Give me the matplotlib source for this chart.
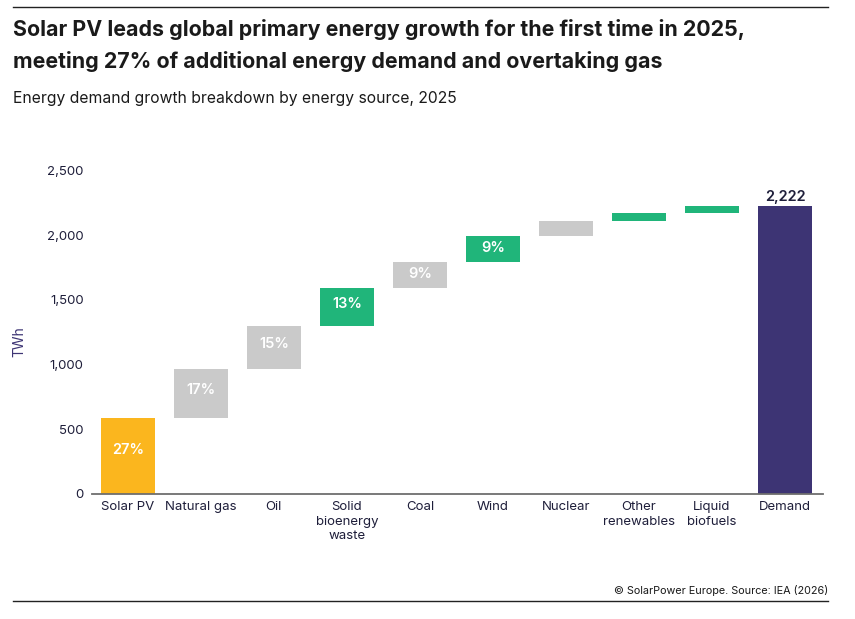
import matplotlib
matplotlib.use("Agg")
import matplotlib.pyplot as plt
import numpy as np

categories = ["Solar PV", "Natural gas", "Oil", "Solid\nbioenergy\nwaste", "Coal", "Wind",
              "Nuclear", "Other\nrenewables", "Liquid\nbiofuels", "Demand"]
growth = [590, 375, 335, 290, 200, 200, 120, 65, 47]
demand_total = 2222
share_labels = ["27%", "17%", "15%", "13%", "9%", "9%", "", "", ""]
y_ticks = [0, 500, 1000, 1500, 2000, 2500]

col_solar = "#FBB61E"
col_gray = "#CACACA"
col_green = "#20B57A"
col_demand = "#3D3474"
bar_colors = [col_solar, col_gray, col_gray, col_green, col_gray, col_green,
              col_gray, col_green, col_green]
text_col = "#1E1E3A"

plt.rcParams['font.family'] = ['Inter', 'DejaVu Sans']

fig = plt.figure(figsize=(8.55, 6.19), dpi=100)
ax = fig.add_axes([92/855, 1-494/619, (823-92)/855, (494-170.5)/619])

bottoms = np.concatenate([[0], np.cumsum(growth)[:-1]])
x = np.arange(len(categories))
ax.bar(x[:-1], growth, bottom=bottoms, width=0.74, color=bar_colors, zorder=2)
ax.bar(x[-1], demand_total, width=0.74, color=col_demand, zorder=2)

for xi, b, g, lab in zip(x[:-1], bottoms, growth, share_labels):
    if lab:
        ax.text(xi, b + g*0.57, lab, ha="center", va="center", color="white",
                fontsize=10.5, fontweight="semibold")
ax.text(x[-1], demand_total + 20, f"{demand_total:,}", ha="center", va="bottom",
        color=text_col, fontsize=10.5, fontweight="semibold")

ax.set_xlim(-0.49, 9.52)
ax.set_ylim(0, 2500)
ax.set_yticks(y_ticks)
ax.set_yticklabels([f"{v:,}" for v in y_ticks])
ax.set_xticks(x)
ax.set_xticklabels(categories, linespacing=1.3)
ax.tick_params(axis="both", length=0, labelsize=9.5, colors=text_col)
ax.tick_params(axis="y", pad=6)
ax.tick_params(axis="x", pad=5)
for s in ["top", "right", "left"]:
    ax.spines[s].set_visible(False)
ax.spines["bottom"].set_color("#6E6E6E")
ax.spines["bottom"].set_linewidth(1.3)
ax.set_ylabel("TWh", color=col_demand, fontsize=10)
ax.yaxis.set_label_coords(-0.09, 0.47)

# Header
fig.add_artist(plt.Line2D([13/855, 828/855], [1-7/619, 1-7/619], color="#222222", lw=1.0))
fig.text(13/855, 1-30/619, "Solar PV leads global primary energy growth for the first time in 2025,",
         fontsize=15.4, fontweight="bold", color="#1A1A1A", va="center")
fig.text(13/855, 1-62/619, "meeting 27% of additional energy demand and overtaking gas",
         fontsize=15.4, fontweight="bold", color="#1A1A1A", va="center")
fig.text(13/855, 1-98/619, "Energy demand growth breakdown by energy source, 2025",
         fontsize=11.3, color="#1A1A1A", va="center")

# Footer
fig.text(828/855, 1-591/619, "© SolarPower Europe. Source: IEA (2026)",
         fontsize=7.8, color="#1A1A1A", ha="right", va="center")
fig.add_artist(plt.Line2D([13/855, 828/855], [1-601/619, 1-601/619], color="#222222", lw=1.0))

fig.savefig("out.png", dpi=100)
